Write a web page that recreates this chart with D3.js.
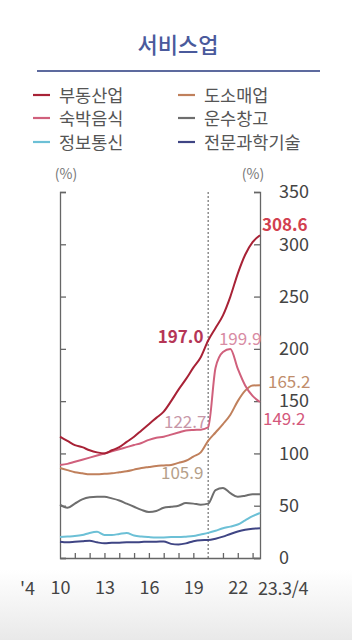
<!DOCTYPE html>
<html><head><meta charset="utf-8">
<script src="https://cdn.jsdelivr.net/npm/d3@7"></script>
<style>
html,body{margin:0;padding:0;background:#fff;}
svg{display:block;font-family:"Noto Sans CJK KR","Noto Sans",sans-serif;}
</style></head>
<body>
<svg id="c" width="352" height="640"></svg>
<script>
// ---- data (half-year steps) ----
const times = [2010,2010.5,2011,2011.5,2012,2012.5,2013,2013.5,2014,2014.5,2015,2015.5,2016,2016.5,2017,2017.5,2018,2018.5,2019,2019.5,2020,2020.5,2021,2021.5,2022,2022.5,2023,2023.5];
const seriesNames = ["부동산업","도소매업","숙박음식","운수창고","정보통신","전문과학기술"];
const realEstate = [116,112,108,106,103,101,100,103,106,111,116,122,128,134,140,150,161,171,182,192,208,220,232,250,272,290,302,308.6];
const wholesale  = [86,84,82,81,80,80,80.5,81,82,83,84.5,86,87,88,88.5,89,91,93,97,101,112,120,128,137,150,160,165,165.2];
const lodging    = [89,90,92,94,96,98,100,102,104,106,108,110,113,115,116,118,120,122,122.5,122.7,125,182,197,199.9,181,165,155,149.2];
const transport  = [51,48,52,56,58,58.5,58.5,57,55,52,49,46,44,45,48,49,50,52.5,52,51,52,65,67,62,58.5,59.5,61,61];
const infoComm   = [20,20.5,21,22,24,25,22,22,23,24,21.5,20.5,20,19.7,19.7,20,20,20.4,21,22.5,24,26,28.5,30,32,36,40,43];
const proSci     = [15.5,15,15.5,16,16.5,15,14,14.5,14.7,15,15,15.3,15.6,15.6,15.8,13.5,13,14,16,17,17.2,18.5,20.4,23,25.3,27,28,28.4];
const yTicks = [0,50,100,150,200,250,300,350];
const xMinorTicks = [2011,2012,2013,2014,2015,2016,2017,2018,2019,2021,2022,2023];
const xLabelYears = [2010,2013,2016,2019,2022];
const xLabels = ["10","13","16","19","22"];
const xEndLabel = "23.3/4";
const xCutLabel = "'4";
const breakYear = 2020;
// value annotations: [text, year, value]
const annotations = [
  ["308.6", 2023.5, 308.6],
  ["197.0", 2019.75, 197.0],
  ["199.9", 2021.4, 199.9],
  ["122.7", 2019.75, 122.7],
  ["105.9", 2019.75, 105.9],
  ["165.2", 2023.5, 165.2],
  ["149.2", 2023.5, 149.2]
];

const svg = d3.select("#c");
const W = 352, H = 640;

// background gradient
const defs = svg.append("defs");
const g0 = defs.append("linearGradient").attr("id","bg").attr("x1",0).attr("x2",0).attr("y1",0).attr("y2",1);
g0.append("stop").attr("offset","0%").attr("stop-color","#ffffff");
g0.append("stop").attr("offset","89%").attr("stop-color","#ffffff");
g0.append("stop").attr("offset","100%").attr("stop-color","#e9e9e9");
svg.append("rect").attr("width",W).attr("height",H).attr("fill","url(#bg)");

// title
svg.append("text").attr("x",178).attr("y",53).attr("text-anchor","middle")
  .attr("font-size",22).attr("fill","#4a5a9c").attr("font-weight",500).text("서비스업");
svg.append("line").attr("x1",37).attr("x2",320).attr("y1",71).attr("y2",71)
  .attr("stroke","#5d6a9e").attr("stroke-width",2);

const colors = {
  "부동산업":"#a82236",
  "도소매업":"#c0805c",
  "숙박음식":"#d0607c",
  "운수창고":"#6e6e6e",
  "정보통신":"#6cc0d6",
  "전문과학기술":"#3f4584"
};

// legend
const legPos = [[33,95],[178,95],[33,118],[178,118],[33,142],[178,142]];
const legOrder = ["부동산업","도소매업","숙박음식","운수창고","정보통신","전문과학기술"];
legOrder.forEach((n,i)=>{
  const [lx,ly] = legPos[i];
  svg.append("line").attr("x1",lx).attr("x2",lx+17).attr("y1",ly).attr("y2",ly)
    .attr("stroke",colors[n]).attr("stroke-width",2.2);
  svg.append("text").attr("x",lx+26).attr("y",ly+6.5).attr("font-size",17.5)
    .attr("fill","#555").text(n);
});

// scales
const x = d3.scaleLinear().domain([2010,2023.5]).range([60,260]);
const y = d3.scaleLinear().domain([0,350]).range([558,192]);

// (%) labels
svg.append("text").attr("x",66).attr("y",179).attr("text-anchor","middle").attr("font-size",14).attr("fill","#777").text("(%)");
svg.append("text").attr("x",253).attr("y",179).attr("text-anchor","middle").attr("font-size",14).attr("fill","#777").text("(%)");

// left axis: bracket with inward ticks, no labels
const la = svg.append("g").attr("transform","translate(60,0)")
  .call(d3.axisRight(y).tickValues(yTicks).tickSize(6).tickFormat(""));
la.selectAll("path,line").attr("stroke","#666").attr("stroke-width",1.3);

// right axis with labels
const ra = svg.append("g").attr("transform","translate(260,0)")
  .call(d3.axisRight(y).tickValues(yTicks).tickSizeInner(-6).tickSizeOuter(-6).tickPadding(19));
ra.selectAll("path,line").attr("stroke","#666").attr("stroke-width",1.3);
ra.selectAll("text").attr("font-size",18).attr("fill","#444").attr("font-family","'Noto Sans CJK KR','Noto Sans',sans-serif");

// bottom axis with inward minor ticks
const ba = svg.append("g").attr("transform","translate(0,558)")
  .call(d3.axisBottom(x).tickValues(xMinorTicks).tickSizeInner(-5).tickSizeOuter(0).tickFormat(""));
ba.selectAll("path,line").attr("stroke","#666").attr("stroke-width",1.3);

// bottom labels
const bl = svg.append("g").attr("transform","translate(0,558)")
  .call(d3.axisBottom(x).tickValues(xLabelYears).tickSize(0).tickPadding(23).tickFormat((d,i)=>xLabels[i]));
bl.select(".domain").remove();
bl.selectAll("text").attr("font-size",18).attr("fill","#444").attr("font-family","'Noto Sans CJK KR','Noto Sans',sans-serif");
svg.append("text").attr("x",x(2023.5)-2).attr("y",595).attr("font-size",18).attr("fill","#444").attr("letter-spacing",-0.3).text(xEndLabel);
svg.append("text").attr("x",35).attr("y",595).attr("text-anchor","end").attr("font-size",18).attr("fill","#444").text(xCutLabel);

// dashed break line
svg.append("line").attr("x1",x(breakYear)).attr("x2",x(breakYear)).attr("y1",y(350)).attr("y2",y(0))
  .attr("stroke","#555").attr("stroke-width",1).attr("stroke-dasharray","2,2");

// lines
const line = d3.line().x((d,i)=>x(times[i])).y(d=>y(d)).curve(d3.curveMonotoneX);
const drawOrder = [["운수창고",transport],["정보통신",infoComm],["전문과학기술",proSci],["도소매업",wholesale],["숙박음식",lodging],["부동산업",realEstate]];
drawOrder.forEach(([n,vals])=>{
  svg.append("path").datum(vals).attr("d",line).attr("fill","none")
    .attr("stroke",colors[n]).attr("stroke-width",2).attr("stroke-linejoin","round");
});

// annotations
const annStyle = {
  "308.6":{dx:2,dy:-10,anchor:"start",fill:"#d2404f",w:600},
  "197.0":{dx:-1,dy:-15,anchor:"end",fill:"#b53656",w:600},
  "199.9":{dx:-10,dy:-10,anchor:"start",fill:"#d88ca4",w:400},
  "122.7":{dx:2,dy:-8,anchor:"end",fill:"#c797a8",w:400},
  "105.9":{dx:-1,dy:26,anchor:"end",fill:"#b5a08a",w:400},
  "165.2":{dx:8,dy:-3,anchor:"start",fill:"#c08d6c",w:400},
  "149.2":{dx:3,dy:17,anchor:"start",fill:"#d4587c",w:400}
};
annotations.forEach(([t,yr,v])=>{
  const s = annStyle[t];
  svg.append("text").attr("x",x(yr)+s.dx).attr("y",y(v)+s.dy+6).attr("text-anchor",s.anchor)
    .attr("font-size",17).attr("font-weight",s.w).attr("fill",s.fill).text(t);
});
</script>
</body></html>
